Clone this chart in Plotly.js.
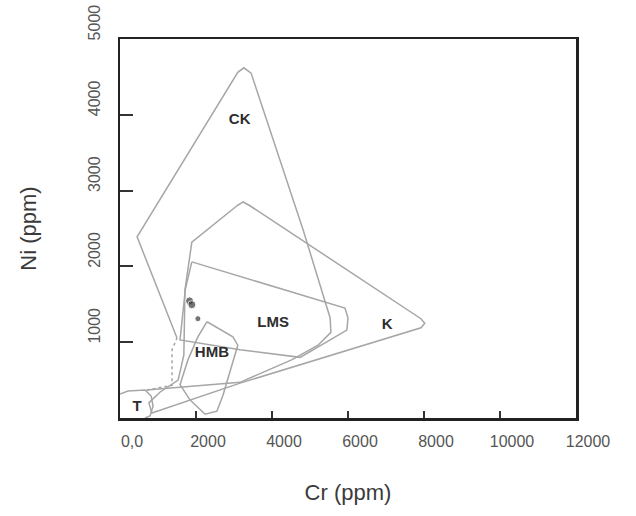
<!DOCTYPE html>
<html>
<head>
<meta charset="utf-8">
<script src="https://cdn.plot.ly/plotly-3.0.1.min.js"></script>
<style>
  html, body { margin: 0; padding: 0; background: #ffffff; }
  #chart { width: 636px; height: 516px; }
</style>
</head>
<body>
<div id="chart"></div>
<script>
// ---- Field outlines (Cr ppm, Ni ppm) ----
const ckCr  = [1500, 450, 3100, 3260, 3450, 4820, 5530, 5550, 5210, 4530, 3160, 2030, 700];
const ckNi  = [1055, 2390, 4560, 4620, 4550, 2480, 1320, 1130, 960, 770, 470, 420, 370];
const ckDotCr = [700, 1370, 1370, 1500];
const ckDotNi = [370, 430, 900, 1055];

const kCr = [3080, 3240, 3420, 7920, 8020, 7920, 3160, 840, 760, 1050, 1530, 1680, 1710, 1890, 3080];
const kNi = [2800, 2850, 2800, 1310, 1250, 1190, 460, 65, 200, 340, 500, 830, 1690, 2320, 2800];

const lmsCr = [1890, 5450, 5920, 6000, 5970, 4740, 3160, 1580, 1720, 1890];
const lmsNi = [2060, 1520, 1450, 1320, 1160, 800, 900, 1030, 1700, 2060];

const hmbCr = [2290, 2970, 3100, 2950, 2710, 2550, 2240, 1840, 1580, 1790, 2050, 2290];
const hmbNi = [1270, 1070, 960, 700, 300, 90, 50, 240, 440, 770, 1070, 1270];

const tCr = [0, 210, 660, 820, 870, 790, 660];
const tNi = [317, 356, 370, 290, 158, 26, 0];

// ---- Sample points ----
const sampleCr = [1830, 1890, 2050];
const sampleNi = [1545, 1495, 1310];

// ---- Field labels ----
const fieldNames = ["CK", "LMS", "K", "HMB", "T"];
const fieldCr = [3150, 4030, 7030, 2420, 450];
const fieldNi = [3930, 1255, 1230, 860, 145];

// ---- Axis ticks ----
const xTickVals = [0, 2000, 4000, 6000, 8000, 10000, 12000];
const xTickText = ["0,0", "2000", "4000", "6000", "8000", "10000", "12000"];
const yTickVals = [1000, 2000, 3000, 4000, 5000];
const yTickText = ["1000", "2000", "3000", "4000", "5000"];

const outline = {color: "#a6a6a6", width: 1.5};
function field(x, y, dash) {
  return {x: x, y: y, type: "scatter", mode: "lines", hoverinfo: "skip",
          line: Object.assign({}, outline, dash ? {dash: dash} : {}), showlegend: false};
}

const traces = [
  field(ckCr, ckNi),
  field(ckDotCr, ckDotNi, "dot"),
  field(kCr, kNi),
  field(lmsCr, lmsNi),
  field(hmbCr, hmbNi),
  field(tCr, tNi),
  {x: sampleCr, y: sampleNi, type: "scatter", mode: "markers", showlegend: false,
   marker: {color: "#3a3a3a", size: [8, 8, 6]}},
  {x: fieldCr, y: fieldNi, text: fieldNames, type: "scatter", mode: "text", showlegend: false,
   textfont: {family: "Liberation Sans, Arial, sans-serif", size: 15, color: "#2e2e2e", weight: "bold"}}
];

const layout = {
  width: 636, height: 516,
  margin: {l: 120, r: 60, t: 39, b: 98},
  paper_bgcolor: "#ffffff", plot_bgcolor: "#ffffff",
  font: {family: "Liberation Sans, Arial, sans-serif", color: "#4a4a4a"},
  xaxis: {
    range: [0, 12000], tickvals: xTickVals, ticktext: xTickText,
    ticks: "inside", ticklen: 7, tickwidth: 2, tickcolor: "#333",
    showline: true, linewidth: 2.5, linecolor: "#222", mirror: true,
    showgrid: false, zeroline: false,
    tickfont: {size: 16, color: "#555"},
    ticklabelstandoff: 7, ticklabelshift: 12,
    title: {text: "Cr (ppm)", font: {size: 22, color: "#3a3a3a"}, standoff: 36}
  },
  yaxis: {
    range: [0, 5000], tickvals: yTickVals, ticktext: yTickText,
    ticks: "inside", ticklen: 13, tickwidth: 2, tickcolor: "#333",
    showline: true, linewidth: 2.5, linecolor: "#222", mirror: true,
    showgrid: false, zeroline: false,
    tickangle: -90,
    tickfont: {size: 16, color: "#555"},
    ticklabelstandoff: 11, ticklabelshift: -14,
    title: {text: "Ni (ppm)", font: {size: 22, color: "#3a3a3a"}, standoff: 44}
  }
};

Plotly.newPlot("chart", traces, layout, {displayModeBar: false, staticPlot: true});
</script>
</body>
</html>
